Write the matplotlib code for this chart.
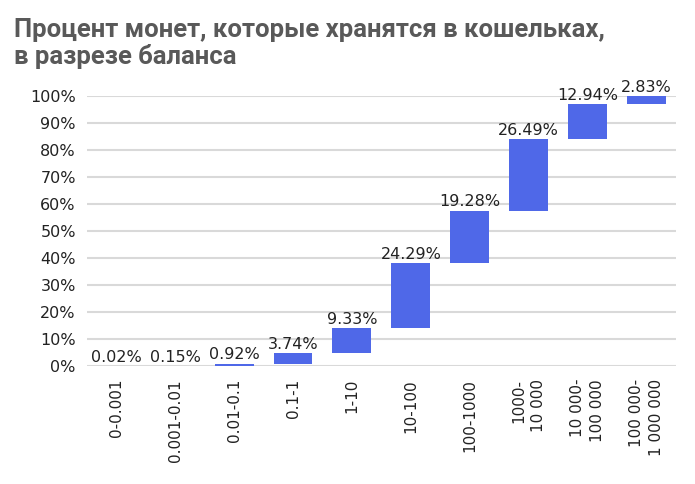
import numpy as np
import matplotlib
matplotlib.use("Agg")
import matplotlib.pyplot as plt

plt.rcParams['font.family'] = ['DejaVu Sans']

# данные
categories = ['0-0.001', '0.001-0.01', '0.01-0.1', '0.1-1', '1-10', '10-100',
              '100-1000', '1000-\n10 000', '10 000-\n100 000', '100 000-\n1 000 000']
values = [0.02, 0.15, 0.92, 3.74, 9.33, 24.29, 19.28, 26.49, 12.94, 2.83]
labels = ['0.02%', '0.15%', '0.92%', '3.74%', '9.33%', '24.29%', '19.28%', '26.49%', '12.94%', '2.83%']
yticks = [0, 10, 20, 30, 40, 50, 60, 70, 80, 90, 100]

bottoms = np.concatenate([[0], np.cumsum(values)[:-1]])
x = np.arange(len(categories))

fig = plt.figure(figsize=(6.95, 4.84), dpi=100)
ax = fig.add_axes([0.125, 0.2428, 0.8475, 0.558])

ax.bar(x, values, bottom=bottoms, width=0.66, color='#4f68e8', zorder=3)
for xi, b, v, lab in zip(x, bottoms, values, labels):
    ax.text(xi, b + v + 0.4, lab, ha='center', va='bottom', fontsize=11.5,
            color='#222222', zorder=4)

ax.set_xlim(-0.5, len(categories) - 0.5)
ax.set_ylim(0, 100)
ax.set_yticks(yticks)
ax.set_yticklabels([f'{t}%' for t in yticks], fontsize=11.5, color='#222222')
ax.set_xticks(x)
ax.set_xticklabels(categories, rotation=90, fontsize=11, color='#222222',
                   va='top', ha='center', multialignment='right', linespacing=1.35)
ax.tick_params(length=0)
ax.tick_params(axis='x', pad=9)
ax.tick_params(axis='y', pad=8)
ax.grid(axis='y', color='#d9d9d9', linewidth=1.5, zorder=0)
for s in ax.spines.values():
    s.set_visible(False)

fig.text(0.02, 0.962, 'Процент монет, которые хранятся в кошельках,\nв разрезе баланса',
         ha='left', va='top', fontsize=18.5, fontweight='bold', color='#595959',
         family='Roboto', linespacing=1.1)

fig.savefig('out.png', dpi=100)
